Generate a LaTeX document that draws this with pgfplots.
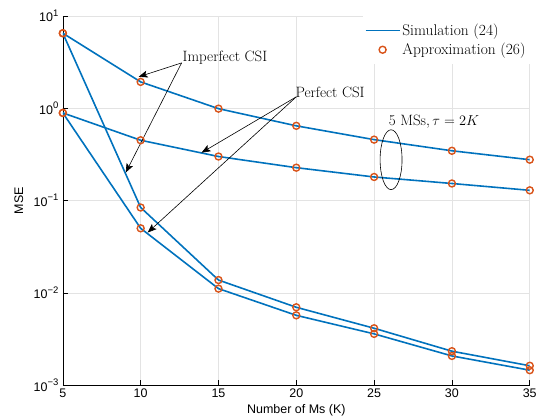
\documentclass[border=0pt]{standalone}
\usepackage{pgfplots}
\pgfplotsset{compat=1.18}
\usetikzlibrary{arrows.meta}
\usepackage{fontspec}
\newfontfamily\arial{Liberation Sans}
\definecolor{mblue}{rgb}{0,0.447,0.741}
\definecolor{morange}{rgb}{0.85,0.325,0.098}
\newcommand{\tenpow}[1]{10\raisebox{0.85ex}{\fontsize{9.5}{10}\selectfont #1}}
\pgfplotsset{
  lineleg/.style={legend image code/.code={\draw[mblue, line width=1.5pt] (0pt,0pt) -- (34pt,0pt);}},
  markleg/.style={legend image code/.code={\draw[##1] plot coordinates {(17pt,0pt)};}},
}
\begin{document}
\begin{tikzpicture}
\begin{axis}[
  scale only axis, width=468pt, height=370pt,
  ymode=log, log basis y=10,
  xmin=5, xmax=35, ymin=1e-3, ymax=10,
  xtick={5,10,15,20,25,30,35},
  xticklabels={5,10,15,20,25,30,35},
  ytick={1e-3,1e-2,1e-1,1,10},
  yticklabels={\tenpow{−3},\tenpow{−2},\tenpow{−1},\tenpow{0},\tenpow{1}},
  ticklabel style={font=\arial\fontsize{12.5}{14}\selectfont},
  yticklabel style={xshift=-1pt},
  axis x line*=bottom, axis y line*=left,
  axis line style={-, black, line width=0.6pt},
  tick align=inside,
  major tick length=5pt, minor tick length=3pt,
  tick style={black, line width=0.5pt},
  grid=both,
  major grid style={gray!22, line width=0.6pt},
  minor grid style={gray!45, dotted, line width=0.6pt},
  xminorgrids=false,
  xlabel={\arial\fontsize{12.5}{14}\selectfont Number of Ms (K)},
  ylabel={\arial\fontsize{12.5}{14}\selectfont MSE},
  every axis x label/.style={at={(axis description cs:0.5,0)}, yshift=-25pt, anchor=center},
  every axis y label/.style={at={(axis description cs:0,0.5)}, xshift=-44pt, rotate=90, anchor=center},
  legend style={at={(rel axis cs:1,1)}, anchor=north east, draw=none, fill=white,
    font=\fontsize{15.5}{17}\selectfont, cells={anchor=west}, inner xsep=2pt, inner ysep=6pt, row sep=2pt},
]
\addplot[mblue, line width=1.6pt, lineleg] coordinates {
(5,6.5) (10,1.93) (15,0.99) (20,0.645) (25,0.457) (30,0.346) (35,0.277)};
\addlegendentry{Simulation (24)}
\addplot[only marks, mark=o, mark size=3.5pt, morange, line width=1.4pt, markleg] coordinates {
(5,6.5) (10,1.93) (15,0.99) (20,0.645) (25,0.457) (30,0.346) (35,0.277)};
\addlegendentry{Approximation (26)}

\addplot[mblue, line width=1.6pt, forget plot] coordinates {
(5,0.89) (10,0.45) (15,0.30) (20,0.227) (25,0.18) (30,0.153) (35,0.129)};
\addplot[mblue, line width=1.6pt, forget plot] coordinates {
(5,6.5) (10,0.084) (15,0.01375) (20,0.00697) (25,0.00413) (30,0.00233) (35,0.00162)};
\addplot[mblue, line width=1.6pt, forget plot] coordinates {
(5,0.89) (10,0.05) (15,0.0111) (20,0.0057) (25,0.00359) (30,0.00207) (35,0.00145)};

\addplot[only marks, mark=o, mark size=3.5pt, morange, line width=1.4pt, forget plot] coordinates {
(5,0.89) (10,0.45) (15,0.30) (20,0.227) (25,0.18) (30,0.153) (35,0.129)};
\addplot[only marks, mark=o, mark size=3.5pt, morange, line width=1.4pt, forget plot] coordinates {
(5,6.5) (10,0.084) (15,0.01375) (20,0.00697) (25,0.00413) (30,0.00233) (35,0.00162)};
\addplot[only marks, mark=o, mark size=3.5pt, morange, line width=1.4pt, forget plot] coordinates {
(5,0.89) (10,0.05) (15,0.0111) (20,0.0057) (25,0.00359) (30,0.00207) (35,0.00145)};

% annotations
\draw[-{Stealth[length=9pt,width=7pt,inset=2pt]}, line width=0.6pt] (axis cs:12.63,3.1) -- (axis cs:9.87,2.19);
\draw[-{Stealth[length=9pt,width=7pt,inset=2pt]}, line width=0.6pt] (axis cs:12.63,3.1) -- (axis cs:9.04,0.201);
\node[anchor=west, inner sep=0pt, font=\fontsize{15}{17}\selectfont] at (axis cs:12.69,3.52) {Imperfect CSI};
\draw[-{Stealth[length=9pt,width=7pt,inset=2pt]}, line width=0.6pt] (axis cs:20.0,1.33) -- (axis cs:13.91,0.33);
\draw[-{Stealth[length=9pt,width=7pt,inset=2pt]}, line width=0.6pt] (axis cs:20.0,1.33) -- (axis cs:10.45,0.045);
\node[anchor=west, inner sep=0pt, font=\fontsize{15}{17}\selectfont] at (axis cs:19.94,1.47) {Perfect CSI};
\draw[line width=0.6pt] (axis cs:26.09,0.277) ellipse [x radius=11pt, y radius=30pt];
\node[inner sep=0pt, font=\fontsize{15}{17}\selectfont] at (axis cs:28.85,0.714) {5 MSs$,\tau=2K$};
\end{axis}
\path (current axis.south west) ++(-63pt,-33pt) rectangle ++(540pt,419pt);
\end{tikzpicture}
\end{document}
